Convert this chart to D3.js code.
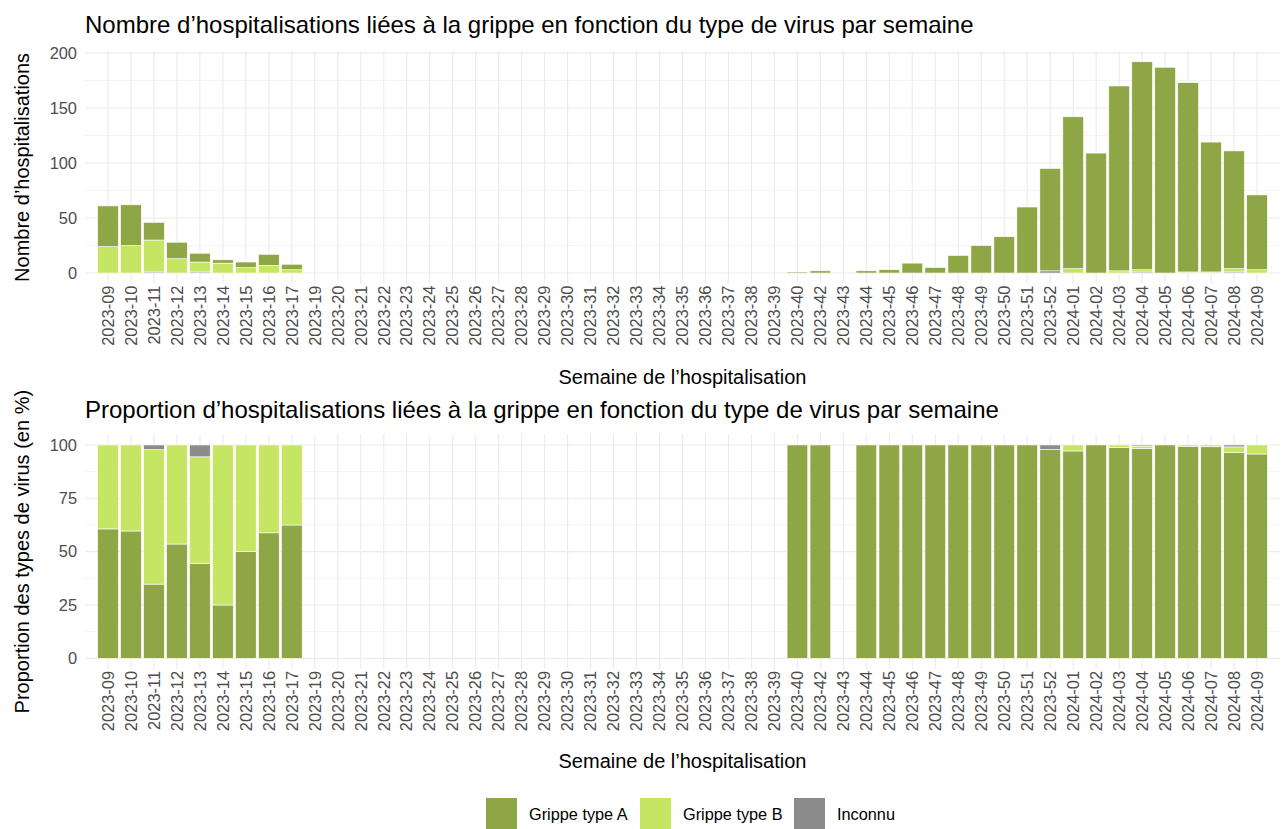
<!DOCTYPE html>
<html><head><meta charset="utf-8">
<script src="https://cdn.jsdelivr.net/npm/d3@7"></script>
<style>
body{margin:0;background:#fff;}
text{font-family:"Liberation Sans",Arial,Helvetica,sans-serif;}
</style></head>
<body><svg id="c" width="1283" height="829"></svg>
<script>
const weeks = ["2023-09","2023-10","2023-11","2023-12","2023-13","2023-14","2023-15","2023-16","2023-17",
"2023-19","2023-20","2023-21","2023-22","2023-23","2023-24","2023-25","2023-26","2023-27","2023-28","2023-29",
"2023-30","2023-31","2023-32","2023-33","2023-34","2023-35","2023-36","2023-37","2023-38","2023-39","2023-40",
"2023-42","2023-43","2023-44","2023-45","2023-46","2023-47","2023-48","2023-49","2023-50","2023-51","2023-52",
"2024-01","2024-02","2024-03","2024-04","2024-05","2024-06","2024-07","2024-08","2024-09"];
const grippeA = [37,37,16,15,8,3,5,10,5,
0,0,0,0,0,0,0,0,0,0,0,0,0,0,0,0,0,0,0,0,0,1,
2,0,2,3,9,5,16,25,33,60,93,
138,109,168,189,187,172,118,107,68];
const grippeB = [24,25,29,13,9,9,5,7,3,
0,0,0,0,0,0,0,0,0,0,0,0,0,0,0,0,0,0,0,0,0,0,
0,0,0,0,0,0,0,0,0,0,0,
4,0,2,2,0,1,1,3,3];
const inconnu = [0,0,1,0,1,0,0,0,0,
0,0,0,0,0,0,0,0,0,0,0,0,0,0,0,0,0,0,0,0,0,0,
0,0,0,0,0,0,0,0,0,0,2,
0,0,0,1,0,0,0,1,0];
const countTicks = [0,50,100,150,200];
const pctTicks = [0,25,50,75,100];
const seriesKeys = ["Grippe type A","Grippe type B","Inconnu"];
const colors = {"Grippe type A":"#8fa646","Grippe type B":"#c5e663","Inconnu":"#8c8c8c"};

const rows = weeks.map((w,i)=>({week:w,"Grippe type A":grippeA[i],"Grippe type B":grippeB[i],"Inconnu":inconnu[i]}));

const svg = d3.select("#c");
const F = {title:24, axisTitle:20, tick:16.4, legend:16.3};
const X0 = 85, X1 = 1280;

const x = d3.scaleBand().domain(weeks).range([X0,X1]).paddingInner(0.1).paddingOuter(0.55);

function panel(cfg){
  const g = svg.append("g");
  const y = d3.scaleLinear().domain(cfg.domain).range([cfg.bottom,cfg.top]);
  g.selectAll(".mn").data(cfg.minor).join("line")
    .attr("x1",X0).attr("x2",X1).attr("y1",d=>y(d)).attr("y2",d=>y(d))
    .attr("stroke","#ebebeb").attr("stroke-width",0.55);
  g.selectAll(".mj").data(cfg.ticks).join("line")
    .attr("x1",X0).attr("x2",X1).attr("y1",d=>y(d)).attr("y2",d=>y(d))
    .attr("stroke","#ebebeb").attr("stroke-width",1.1);
  g.selectAll(".vg").data(weeks).join("line")
    .attr("x1",d=>x(d)+x.bandwidth()/2).attr("x2",d=>x(d)+x.bandwidth()/2)
    .attr("y1",cfg.top).attr("y2",cfg.bottom)
    .attr("stroke","#ebebeb").attr("stroke-width",1.1);
  const stack = d3.stack().keys(cfg.keys);
  if(cfg.expand) stack.offset(d3.stackOffsetExpand);
  const st = stack(rows);
  st.forEach(s=>{
    g.append("g").selectAll("rect").data(s.filter(d=>d[1]-d[0]>0)).join("rect")
      .attr("x",d=>x(d.data.week)).attr("width",x.bandwidth())
      .attr("y",d=>y(d[1]*cfg.mult)).attr("height",d=>y(d[0]*cfg.mult)-y(d[1]*cfg.mult))
      .attr("fill",colors[s.key]).attr("stroke","#ffffff").attr("stroke-width",0.6);
  });
  const ya = g.append("g").attr("transform",`translate(${X0-2},0)`)
    .call(d3.axisLeft(y).tickValues(cfg.ticks).tickSize(0).tickPadding(6));
  ya.select(".domain").remove();
  ya.selectAll("text").attr("fill","#4d4d4d").style("font-size",F.tick+"px")
    .style("font-family","Liberation Sans, Arial, sans-serif");
  const xa = g.append("g").attr("transform",`translate(0,${cfg.bottom})`)
    .call(d3.axisBottom(x).tickSize(0).tickPadding(0));
  xa.select(".domain").remove();
  xa.selectAll("text").attr("fill","#4d4d4d").style("font-size",F.tick+"px")
    .style("font-family","Liberation Sans, Arial, sans-serif")
    .attr("transform","rotate(-90)").attr("text-anchor","end")
    .attr("x",-2).attr("y",0).attr("dy","0.35em");
  svg.append("text").attr("x",X0).attr("y",cfg.titleY).style("font-size",F.title+"px").attr("fill","#000").text(cfg.title);
  svg.append("text").attr("x",(X0+X1)/2).attr("y",cfg.xTitleY).attr("text-anchor","middle")
    .style("font-size",F.axisTitle+"px").attr("fill","#000").text("Semaine de l’hospitalisation");
  svg.append("text").attr("transform",`translate(29,${(cfg.top+cfg.bottom)/2}) rotate(-90)`)
    .attr("text-anchor","middle").style("font-size",F.axisTitle+"px").attr("fill","#000").text(cfg.yTitle);
}

panel({domain:[-9.6,201.6], top:51.2, bottom:283.6, ticks:countTicks, minor:[25,75,125,175],
  keys:["Inconnu","Grippe type B","Grippe type A"], expand:false, mult:1,
  title:"Nombre d’hospitalisations liées à la grippe en fonction du type de virus par semaine", titleY:33,
  xTitleY:384, yTitle:"Nombre d’hospitalisations"});
panel({domain:[-5,105], top:434.3, bottom:669, ticks:pctTicks, minor:[12.5,37.5,62.5,87.5],
  keys:["Grippe type A","Grippe type B","Inconnu"], expand:true, mult:100,
  title:"Proportion d’hospitalisations liées à la grippe en fonction du type de virus par semaine", titleY:418,
  xTitleY:768, yTitle:"Proportion des types de virus (en %)"});

const lg = svg.append("g");
const legX = [486,640,794];
seriesKeys.forEach((k,i)=>{
  lg.append("rect").attr("x",legX[i]).attr("y",798).attr("width",31).attr("height",31).attr("fill",colors[k]);
  lg.append("text").attr("x",legX[i]+43).attr("y",814).attr("dy","0.35em").style("font-size",F.legend+"px").attr("fill","#000").text(k);
});
</script></body></html>
